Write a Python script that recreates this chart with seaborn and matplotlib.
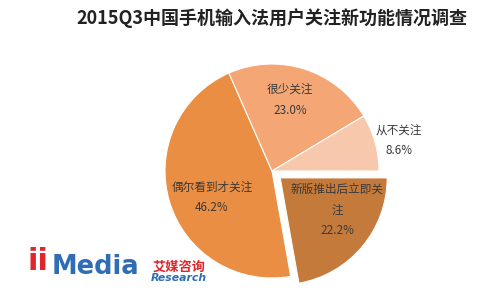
import numpy as np
import matplotlib
matplotlib.use("Agg")
import matplotlib.pyplot as plt
import seaborn as sns

sns.set_theme(style="white")
plt.rcParams['font.family'] = ['Noto Sans CJK SC', 'DejaVu Sans']

title = "2015Q3中国手机输入法用户关注新功能情况调查"
categories = ["新版推出后立即关\n注", "偶尔看到才关注", "很少关注", "从不关注"]
values = [22.2, 46.2, 23.0, 8.6]
colors = ["#C47A3A", "#EA8E43", "#F4A775", "#F8C8AD"]
explode = [0.1, 0, 0, 0]
label_r = [0.61, 0.615, 0.685, 1.22]
label_dang = [10.5, 7, 3.4, -1.8]

W, H = 494, 299
cx, cy, R = 272, 128, 107  # pie center (px from left/bottom) and radius

fig = plt.figure(figsize=(W / 100, H / 100), dpi=100)
ax = fig.add_axes([0, 0, 1, 1])
wedges, _ = ax.pie(values, colors=colors, explode=explode, startangle=0,
                   counterclock=False,
                   wedgeprops=dict(edgecolor="white", linewidth=0.8))
ax.set_aspect('auto')
ax.set_xlim(-cx / R, (W - cx) / R)
ax.set_ylim(-cy / R, (H - cy) / R)
ax.axis('off')

for w, cat, v, r, da in zip(wedges, categories, values, label_r, label_dang):
    mid = np.deg2rad((w.theta1 + w.theta2) / 2 + da)
    x0, y0 = w.center
    ax.text(x0 + r * np.cos(mid), y0 + r * np.sin(mid), f"{cat}\n{v:.1f}%",
            ha='center', va='center', fontsize=8.4, color="#3a3a3a",
            linespacing=1.75)

fig.text(272 / W, 1 - 18 / H, title, ha='center', va='center',
         fontsize=13, fontweight='bold', color="#222222")

# logo
fig.text(27 / W, 1 - 262 / H, "ii", ha='left', va='center', fontsize=22,
         fontweight='bold', color="#E0262B", family=['DejaVu Sans'])
fig.text(52 / W, 1 - 267 / H, "Media", ha='left', va='center', fontsize=18.5,
         fontweight='bold', color="#2F6DB5", family=['DejaVu Sans'])
fig.text(153 / W, 1 - 267 / H, "艾媒咨询", ha='left', va='center', fontsize=9.5,
         fontweight='bold', color="#E0262B")
fig.text(151 / W, 1 - 278 / H, "Research", ha='left', va='center', fontsize=7.8,
         style='italic', fontweight='bold', color="#2F6DB5", family=['DejaVu Sans'])

fig.savefig("out.png", dpi=100)
